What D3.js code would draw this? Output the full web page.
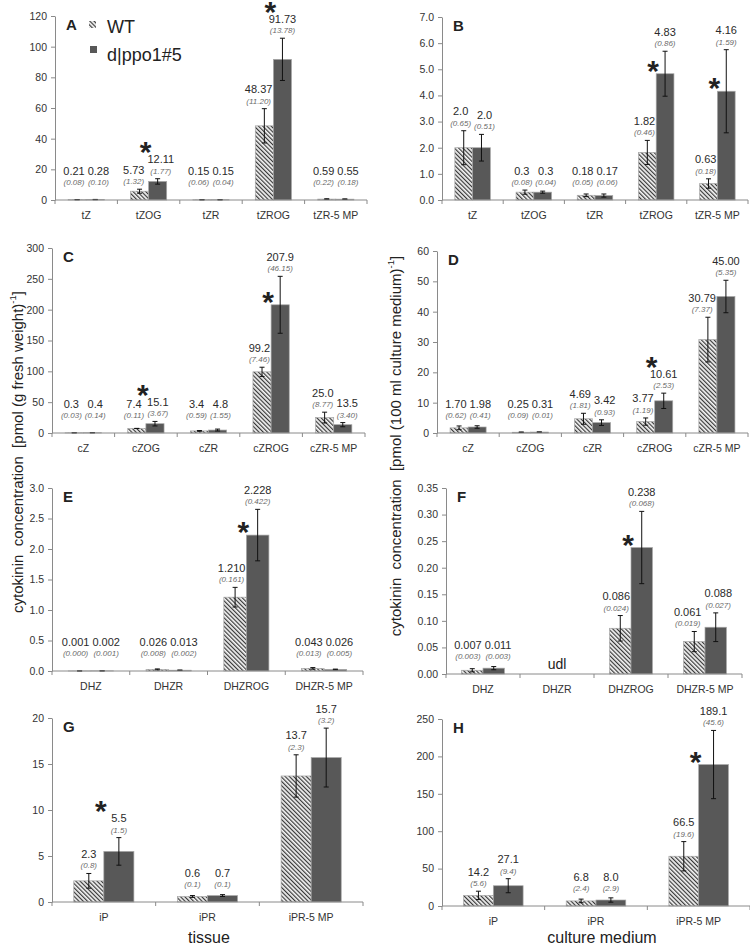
<!DOCTYPE html>
<html><head><meta charset="utf-8">
<script src="https://cdn.jsdelivr.net/npm/d3@7"></script>
<style>body{margin:0;background:#fff}svg{display:block;font-family:"Liberation Sans",Arial,sans-serif}</style>
</head><body><svg id="c" width="750" height="946"></svg>
<script>
// ---------- data ----------
const catsA = ["tZ","tZOG","tZR","tZROG","tZR-5 MP"];
const wtA   = ["0.21","5.73","0.15","48.37","0.59"];
const wtSdA = ["0.08","1.32","0.06","11.20","0.22"];
const dlA   = ["0.28","12.11","0.15","91.73","0.55"];
const dlSdA = ["0.10","1.77","0.04","13.78","0.18"];
const sigA  = ["tZOG","tZROG"];
const ticksA = ["0","20","40","60","80","100","120"];

const catsB = ["tZ","tZOG","tZR","tZROG","tZR-5 MP"];
const wtB   = ["2.0","0.3","0.18","1.82","0.63"];
const wtSdB = ["0.65","0.08","0.05","0.46","0.18"];
const dlB   = ["2.0","0.3","0.17","4.83","4.16"];
const dlSdB = ["0.51","0.04","0.06","0.86","1.59"];
const sigB  = ["tZROG","tZR-5 MP"];
const ticksB = ["0.0","1.0","2.0","3.0","4.0","5.0","6.0","7.0"];

const catsC = ["cZ","cZOG","cZR","cZROG","cZR-5 MP"];
const wtC   = ["0.3","7.4","3.4","99.2","25.0"];
const wtSdC = ["0.03","0.11","0.59","7.46","8.77"];
const dlC   = ["0.4","15.1","4.8","207.9","13.5"];
const dlSdC = ["0.14","3.67","1.55","46.15","3.40"];
const sigC  = ["cZOG","cZROG"];
const ticksC = ["0","50","100","150","200","250","300"];

const catsD = ["cZ","cZOG","cZR","cZROG","cZR-5 MP"];
const wtD   = ["1.70","0.25","4.69","3.77","30.79"];
const wtSdD = ["0.62","0.09","1.81","1.19","7.37"];
const dlD   = ["1.98","0.31","3.42","10.61","45.00"];
const dlSdD = ["0.41","0.01","0.93","2.53","5.35"];
const sigD  = ["cZROG"];
const ticksD = ["0","10","20","30","40","50","60"];

const catsE = ["DHZ","DHZR","DHZROG","DHZR-5 MP"];
const wtE   = ["0.001","0.026","1.210","0.043"];
const wtSdE = ["0.000","0.008","0.161","0.013"];
const dlE   = ["0.002","0.013","2.228","0.026"];
const dlSdE = ["0.001","0.002","0.422","0.005"];
const sigE  = ["DHZROG"];
const ticksE = ["0.0","0.5","1.0","1.5","2.0","2.5","3.0"];

const catsF = ["DHZ","DHZR","DHZROG","DHZR-5 MP"];
const wtF   = ["0.007","udl","0.086","0.061"];
const wtSdF = ["0.003","","0.024","0.019"];
const dlF   = ["0.011","udl","0.238","0.088"];
const dlSdF = ["0.003","","0.068","0.027"];
const sigF  = ["DHZROG"];
const ticksF = ["0.00","0.05","0.10","0.15","0.20","0.25","0.30","0.35"];

const catsG = ["iP","iPR","iPR-5 MP"];
const wtG   = ["2.3","0.6","13.7"];
const wtSdG = ["0.8","0.1","2.3"];
const dlG   = ["5.5","0.7","15.7"];
const dlSdG = ["1.5","0.1","3.2"];
const sigG  = ["iP"];
const ticksG = ["0","5","10","15","20"];

const catsH = ["iP","iPR","iPR-5 MP"];
const wtH   = ["14.2","6.8","66.5"];
const wtSdH = ["5.6","2.4","19.6"];
const dlH   = ["27.1","8.0","189.1"];
const dlSdH = ["9.4","2.9","45.6"];
const sigH  = ["iPR-5 MP"];
const ticksH = ["0","50","100","150","200","250"];

const seriesNames = ["WT","d|ppo1#5"];

// ---------- layout ----------
const panels = [
  {id:"A",cats:catsA,wt:wtA,wtSd:wtSdA,dl:dlA,dlSd:dlSdA,sig:sigA,ticks:ticksA,box:[55,367,16,200]},
  {id:"B",cats:catsB,wt:wtB,wtSd:wtSdB,dl:dlB,dlSd:dlSdB,sig:sigB,ticks:ticksB,box:[442,748,17,200]},
  {id:"C",cats:catsC,wt:wtC,wtSd:wtSdC,dl:dlC,dlSd:dlSdC,sig:sigC,ticks:ticksC,box:[52,365,248,433]},
  {id:"D",cats:catsD,wt:wtD,wtSd:wtSdD,dl:dlD,dlSd:dlSdD,sig:sigD,ticks:ticksD,box:[437,748,251,433]},
  {id:"E",cats:catsE,wt:wtE,wtSd:wtSdE,dl:dlE,dlSd:dlSdE,sig:sigE,ticks:ticksE,box:[52,363,488,671]},
  {id:"F",cats:catsF,wt:wtF,wtSd:wtSdF,dl:dlF,dlSd:dlSdF,sig:sigF,ticks:ticksF,box:[446,742,488,674]},
  {id:"G",cats:catsG,wt:wtG,wtSd:wtSdG,dl:dlG,dlSd:dlSdG,sig:sigG,ticks:ticksG,box:[52,363,718,902]},
  {id:"H",cats:catsH,wt:wtH,wtSd:wtSdH,dl:dlH,dlSd:dlSdH,sig:sigH,ticks:ticksH,box:[442,750,719,906]}
];

const svg = d3.select("#c");
const AX = "#8a8a8a", DARK = "#585858";
const defs = svg.append("defs");
const pat = defs.append("pattern").attr("id","hatch").attr("patternUnits","userSpaceOnUse")
  .attr("width",3).attr("height",10).attr("patternTransform","rotate(-45)");
pat.append("rect").attr("width",3).attr("height",10).attr("fill","#f4f4f4");
pat.append("line").attr("x1",0.6).attr("y1",0).attr("x2",0.6).attr("y2",10).attr("stroke","#383838").attr("stroke-width",1.2);

function drawPanel(p){
  const [x0,x1,yT,y0] = p.box;
  const tv = p.ticks.map(Number);
  const y = d3.scaleLinear().domain([0,d3.max(tv)]).range([y0,yT]);
  const x = d3.scaleBand().domain(p.cats).range([x0,x1]);
  const bw = x.bandwidth()*0.29;
  const g = svg.append("g");
  const gBars = g.append("g"), gLab = g.append("g");

  // y axis
  const ga = g.append("g").attr("transform",`translate(${x0},0)`)
    .call(d3.axisLeft(y).tickValues(tv).tickFormat((d,i)=>p.ticks[i]).tickSize(4).tickSizeOuter(0).tickPadding(4));
  ga.select(".domain").attr("stroke",AX);
  ga.selectAll(".tick line").attr("stroke",AX);
  ga.selectAll(".tick text").attr("font-size",10.5).attr("fill","#333").attr("font-family",null);

  // x axis
  const bounds = d3.range(p.cats.length+1).map(i=>x0+i*x.step());
  g.append("line").attr("x1",x0).attr("x2",x1).attr("y1",y0).attr("y2",y0).attr("stroke",AX);
  g.selectAll(".bt").data(bounds).join("line").attr("x1",d=>d).attr("x2",d=>d)
    .attr("y1",y0).attr("y2",y0+4).attr("stroke",AX);
  g.selectAll(".cl").data(p.cats).join("text").attr("x",d=>x(d)+x.bandwidth()/2).attr("y",y0+19)
    .attr("text-anchor","middle").attr("font-size",10.5).attr("fill","#333").text(d=>d);

  // panel letter
  g.append("text").attr("x",x0+11).attr("y",yT+14).attr("font-size",15).attr("font-weight","bold")
    .attr("fill","#222").text(p.id);

  p.cats.forEach((c,i)=>{
    const cx = x(c)+x.bandwidth()/2;
    const series = [
      {v:p.wt[i],sd:p.wtSd[i],bx:cx-bw,fill:"url(#hatch)"},
      {v:p.dl[i],sd:p.dlSd[i],bx:cx,fill:DARK}
    ];
    if(series[0].v==="udl"){
      gLab.append("text").attr("x",cx).attr("y",y0-5).attr("text-anchor","middle")
        .attr("font-size",14).attr("fill","#222").text("udl");
      return;
    }
    const labs = [];
    series.forEach(s=>{
      const v=+s.v, sd=+s.sd;
      gBars.append("rect").attr("x",s.bx).attr("width",bw).attr("y",y(v)).attr("height",y0-y(v))
        .attr("fill",s.fill).attr("stroke","#a8a8a8").attr("stroke-width",0.7);
      const ex = s.bx+bw/2, eT = y(v+sd), eB = y(Math.max(0,v-sd));
      gBars.append("line").attr("x1",ex).attr("x2",ex).attr("y1",eT).attr("y2",eB).attr("stroke","#111").attr("stroke-width",1);
      [eT,eB].forEach(yy=>gBars.append("line").attr("x1",ex-2.5).attr("x2",ex+2.5).attr("y1",yy).attr("y2",yy).attr("stroke","#111").attr("stroke-width",1));
      const sy = Math.min(eT-5, y0-15), vy = sy-10.5;
      const tv1 = gLab.append("text").attr("x",ex).attr("y",vy).attr("text-anchor","middle")
        .attr("font-size",11).attr("fill","#2a2a2a").text(s.v);
      const ts1 = gLab.append("text").attr("x",ex).attr("y",sy).attr("text-anchor","middle")
        .attr("font-size",8).attr("font-style","italic").attr("fill","#6a6a6a").text("("+s.sd+")");
      const w = Math.max(tv1.node().getComputedTextLength(), ts1.node().getComputedTextLength());
      labs.push({tv:tv1,ts:ts1,cx:ex,vy,sy,w,sdPx:eB-eT,barTop:y(v)});
    });
    const [a,b] = labs;
    // keep a label clear of the neighbouring bar
    if(a.sy+2 > b.barTop) a.cx = Math.min(a.cx, cx - a.w/2 - 1);
    if(b.sy+2 > a.barTop) b.cx = Math.max(b.cx, cx + b.w/2 + 1);
    // spread labels that collide
    if(Math.abs(a.vy-b.vy)<20){
      const need=(a.w+b.w)/2+3, dist=b.cx-a.cx;
      if(dist<need){ const sh=(need-dist)/2; a.cx-=sh; b.cx+=sh; }
    }
    [a,b].forEach(l=>{ l.tv.attr("x",l.cx); l.ts.attr("x",l.cx); });
    if(p.sig.includes(c)){
      const ay = (b.sdPx/2>22) ? b.barTop-10 : b.vy-18;
      gLab.append("text").attr("x",cx-3).attr("y",ay+17).attr("text-anchor","middle")
        .attr("font-size",30).attr("font-weight","bold").attr("fill","#222").text("*");
    }
  });
}
panels.forEach(drawPanel);

// legend (panel A)
const lg = svg.append("g");
lg.append("rect").attr("x",89).attr("y",21).attr("width",7).attr("height",7).attr("fill","url(#hatch)");
lg.append("text").attr("x",107).attr("y",33).attr("font-size",18).attr("fill","#222").text(seriesNames[0]);
lg.append("rect").attr("x",90).attr("y",46).attr("width",7).attr("height",7).attr("fill",DARK);
lg.append("text").attr("x",107).attr("y",61).attr("font-size",18).attr("fill","#222").text(seriesNames[1]);

// axis titles
function yTitle(tx,ty,main){
  const t = svg.append("text").attr("transform",`translate(${tx},${ty}) rotate(-90)`)
    .attr("text-anchor","middle").attr("font-size",15).attr("fill","#222");
  t.append("tspan").text(main);
  t.append("tspan").attr("font-size",9.5).attr("dy",-7).text("-1");
  t.append("tspan").attr("dy",7).text("]");
}
yTitle(23,452,"cytokinin\u00a0 concentration\u00a0 [pmol (g fresh weight)");
yTitle(401,446,"cytokinin\u00a0 concentration\u00a0 [pmol (100 ml culture medium)");
svg.append("text").attr("x",209).attr("y",943).attr("text-anchor","middle").attr("font-size",16).attr("fill","#222").text("tissue");
svg.append("text").attr("x",602).attr("y",943).attr("text-anchor","middle").attr("font-size",16).attr("fill","#222").text("culture medium");
</script></body></html>
